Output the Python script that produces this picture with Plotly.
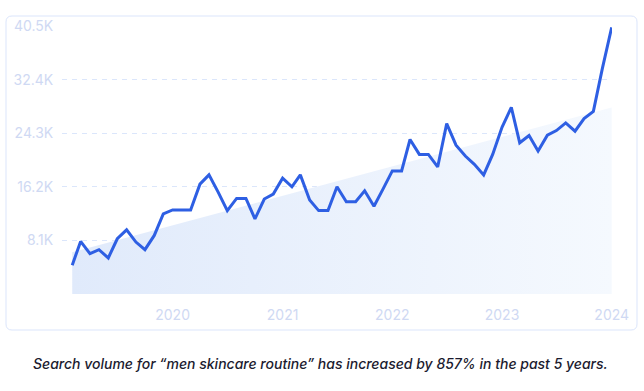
import plotly.graph_objects as go
import pandas as pd

# Monthly search volume (thousands), Feb 2019 .. Jan 2024
months = pd.date_range("2019-02-01", "2024-01-01", freq="MS").strftime("%Y-%m-%d").tolist()
volume_k = [
    4.35, 7.95, 6.1, 6.7, 5.45, 8.35, 9.7, 7.85, 6.7, 8.85, 12.1, 12.7,
    12.7, 12.7, 16.6, 18.0, 15.35, 12.6, 14.45, 14.45, 11.35, 14.35, 15.1, 17.5,
    16.2, 18.0, 14.2, 12.6, 12.6, 16.2, 13.95, 13.95, 15.6, 13.25, 15.85, 18.6,
    18.6, 23.35, 21.1, 21.1, 19.2, 25.75, 22.5, 20.85, 19.6, 18.0, 21.1, 25.2,
    28.2, 22.85, 23.95, 21.6, 24.0, 24.7, 25.85, 24.6, 26.5, 27.6, 34.1, 40.3,
]
trend_start_k = 6.3
trend_end_k = 28.2
trend_dates = [months[0], months[-1]]
trend_vals = [trend_start_k, trend_end_k]

y_tickvals = [8.1, 16.2, 24.3, 32.4, 40.5]
y_ticktext = ["8.1K", "16.2K", "24.3K", "32.4K", "40.5K"]
x_tickvals = ["2020-01-01", "2021-01-01", "2022-01-01", "2023-01-01", "2024-01-01"]
x_ticktext = ["2020", "2021", "2022", "2023", "2024"]
caption = "Search volume for \u201cmen skincare routine\u201d has increased by 857% in the past 5 years."

fig = go.Figure()
fig.add_trace(go.Scatter(
    x=trend_dates, y=trend_vals, mode="lines", line=dict(width=0),
    fill="tozeroy",
    fillgradient=dict(type="horizontal",
                      colorscale=[[0, "#e0eafb"], [1, "#f5f9fe"]]),
    hoverinfo="skip", showlegend=False,
))
fig.add_trace(go.Scatter(
    x=months, y=volume_k, mode="lines",
    line=dict(color="#2e5fe3", width=3), showlegend=False,
))

L, R, T, B = 62, 32, 26, 97
W, H = 644, 391
pw, ph = W - L - R, H - T - B

def px(x):
    return (x - L) / pw

def py(y):
    return (H - B - y) / ph

x0, x1, y0, y1 = px(6), px(637), py(330), py(16)
rx, ry = 6 / pw, 6 / ph
path = (f"M {x0+rx},{y1} L {x1-rx},{y1} Q {x1},{y1} {x1},{y1-ry} "
        f"L {x1},{y0+ry} Q {x1},{y0} {x1-rx},{y0} L {x0+rx},{y0} "
        f"Q {x0},{y0} {x0},{y0+ry} L {x0},{y1-ry} Q {x0},{y1} {x0+rx},{y1} Z")
fig.add_shape(type="path", path=path, xref="paper", yref="paper",
              line=dict(color="#dbe5fb", width=1), layer="below")

fig.add_annotation(text=caption, xref="paper", yref="paper",
                   x=px(320), y=py(363), xanchor="center", yanchor="middle",
                   showarrow=False,
                   font=dict(family="Inter, Lato, sans-serif", size=14,
                             color="#1b1b2f", style="italic", weight=500))

fig.update_layout(
    width=W, height=H, margin=dict(l=L, r=R, t=T, b=B),
    paper_bgcolor="white", plot_bgcolor="white",
    font=dict(family="Inter, Lato, sans-serif"),
    xaxis=dict(range=["2018-12-29", "2024-01-02"], tickvals=x_tickvals,
               ticktext=x_ticktext, showgrid=False, zeroline=False,
               showline=False, ticks="outside", ticklen=8,
               tickcolor="rgba(0,0,0,0)",
               tickfont=dict(size=14, color="#cfd9f3")),
    yaxis=dict(range=[0, 40.5], tickvals=y_tickvals, ticktext=y_ticktext,
               showgrid=True, gridcolor="#dbe6fb", griddash="5px,5px",
               gridwidth=1, zeroline=False, showline=False,
               ticks="outside", ticklen=5, tickcolor="rgba(0,0,0,0)",
               tickfont=dict(size=14, color="#cfd9f3")),
)

fig.write_html("out.html", config={"displayModeBar": False},
               post_script="document.body.style.margin='0';")
